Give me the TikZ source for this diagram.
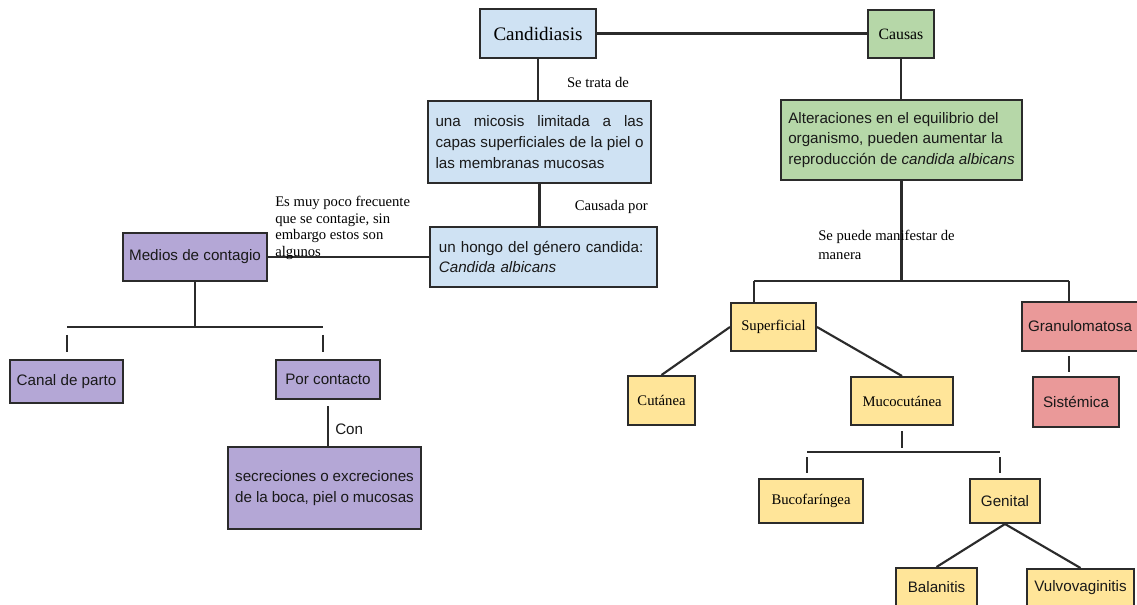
\documentclass[tikz,border=0pt]{standalone}
\usepackage{fontspec}
\setmainfont{Liberation Serif}
\setsansfont{Liberation Sans}
\definecolor{cblue}{HTML}{CFE2F3}
\definecolor{cgreen}{HTML}{B6D7A8}
\definecolor{cpurple}{HTML}{B4A7D6}
\definecolor{cyellow}{HTML}{FFE599}
\definecolor{cred}{HTML}{EA9999}
\definecolor{edge}{HTML}{2B2B2B}

\tikzset{
  bx/.style={draw=edge, line width=1.5pt, rectangle, inner sep=0pt},
  % a box given by its left, top, right and bottom edges
  area/.style args={#1,#2,#3,#4}{at={({(#1+#3)/2},{(#2+#4)/2})},
    minimum width={(#3-#1)*0.75pt}, minimum height={(#4-#2)*0.75pt}},
  sf/.style={font=\sffamily\fontsize{11.4}{15.5}\selectfont, text=black!90},
  rm/.style={font=\rmfamily\fontsize{11}{12.5}\selectfont},
  link/.style={draw=edge, line width=1.6pt},
  lbl/.style={inner sep=0pt, font=\rmfamily\fontsize{11}{12.5}\selectfont, align=left},
}

\begin{document}
\begin{tikzpicture}[x=0.75pt, y=-0.75pt]
\useasboundingbox (0,0) rectangle (1137,605);
\clip (0,0) rectangle (1137,605);
\fill[white] (0,0) rectangle (1137,605);

% ---- left branch: the disease ----
\node[bx, fill=cblue, font=\rmfamily\fontsize{14.3}{16}\selectfont, area={480,9,596,58}] (cand) {Candidiasis};
\node[bx, fill=cgreen, font=\rmfamily\fontsize{11.8}{14}\selectfont, area={868,10,934,58}] (causas) {Causas};
\node[bx, fill=cblue, sf, area={428,101,651,183}, text width=156pt, align=justify] (micosis)
  {una micosis limitada a las\linebreak capas superficiales de la piel o\linebreak las membranas mucosas};
\node[bx, fill=cblue, sf, area={430,227,657,287}, text width=157pt, align=left] (hongo)
  {un hongo del género candida:\\\textit{Candida albicans}};
\node[bx, fill=cpurple, sf, area={123,233,267,281}] (medios) {Medios de contagio};
\node[bx, fill=cpurple, sf, area={10,360,123,403}] (canal) {Canal de parto};
\node[bx, fill=cpurple, sf, area={276,360,380,399}] (porcont) {Por contacto};
\node[bx, fill=cpurple, sf, area={228,447,421,529}, text width=134pt, align=justify] (secre)
  {secreciones o excreciones\linebreak de la boca, piel o mucosas};

% ---- right branch: causes and forms ----
\node[bx, fill=cgreen, sf, area={781,100,1022,180}, align=left] (altera)
  {Alteraciones en el equilibrio del\\organismo, pueden aumentar la\\reproducción de \textit{candida albicans}};
\node[bx, fill=cyellow, rm, area={731,303,816,351}] (superf) {Superficial};
\node[bx, fill=cred, sf, area={1022,302,1138,351}] (granulo) {Granulomatosa};
\node[bx, fill=cyellow, rm, area={628,376,695,425}] (cutanea) {Cutánea};
\node[bx, fill=cyellow, rm, area={851,377,953,425}] (mucocut) {Mucocutánea};
\node[bx, fill=cred, sf, area={1033,377,1119,427}] (sistem) {Sistémica};
\node[bx, fill=cyellow, rm, area={759,479,863,523}] (bucof) {Bucofaríngea};
\node[bx, fill=cyellow, sf, area={970,479,1040,523}] (genital) {Genital};
\node[bx, fill=cyellow, sf, area={896,568,977,607}] (balan) {Balanitis};
\node[bx, fill=cyellow, sf, area={1027,569,1134,607}] (vulvo) {Vulvovaginitis};

% ---- branching bars ----
\coordinate (lbarL) at (67,327);
\coordinate (lbarR) at (323,327);
\coordinate (rbarL) at (754,281);
\coordinate (rbarR) at (1069,281);
\coordinate (mbarL) at (807,452);
\coordinate (mbarR) at (1000,452);

% ---- connectors ----
\draw[link] (cand.east) -- (cand.east -| causas.west);
\draw[link] (cand.south) -- (cand.south |- micosis.north);
\draw[link] (micosis.south) -- (micosis.south |- hongo.north);
\draw[link] (hongo.west) -- (hongo.west -| medios.east);
\draw[link] (medios.south) -- (medios.south |- lbarL);
\draw[link] (lbarL) -- (lbarR);
\draw[link, shorten <=6pt, shorten >=5.25pt] (lbarL) -- (lbarL |- canal.north);
\draw[link, shorten <=6pt, shorten >=5.25pt] (lbarR) -- (lbarR |- porcont.north);
\draw[link, shorten <=4.5pt] (porcont.south) -- (porcont.south |- secre.north);

\draw[link] (causas.south) -- (causas.south |- altera.north);
\draw[link] (altera.south) -- (altera.south |- rbarL);
\draw[link] (rbarL) -- (rbarR);
\draw[link] (rbarL) -- (rbarL |- superf.north);
\draw[link] (rbarR) -- (rbarR |- granulo.north);
\draw[link, shorten <=3pt, shorten >=3pt] (rbarR |- granulo.south) -- (rbarR |- sistem.north);
\draw[link] (superf.west) -- (cutanea.north);
\draw[link] (superf.east) -- (mucocut.north);
\draw[link, shorten <=4pt, shorten >=3pt] (mucocut.south) -- (mucocut.south |- mbarL);
\draw[link] (mbarL) -- (mbarR);
\draw[link, shorten <=4pt, shorten >=4pt] (mbarL) -- (mbarL |- bucof.north);
\draw[link, shorten <=4pt, shorten >=4pt] (mbarR) -- (mbarR |- genital.north);
\draw[link] (genital.south) -- (balan.north);
\draw[link] (genital.south) -- (vulvo.north);

% ---- connector labels ----
\node[lbl] (lsetrata) at (598,82) {Se trata de};
\node[lbl, anchor=east] (lcausada) at (648,207) {Causada por};
\node[lbl, anchor=north west] (lmuy) at (275,196) {Es muy poco frecuente\\que se contagie, sin\\embargo estos son\\algunos};
\node[sf, anchor=west, inner sep=0pt] (lcon) at (335,429) {Con};
\node[lbl, anchor=north west, font=\rmfamily\fontsize{11}{14.5}\selectfont] (lmanif) at (818,230) {Se puede manifestar de\\manera};
\end{tikzpicture}
\end{document}
